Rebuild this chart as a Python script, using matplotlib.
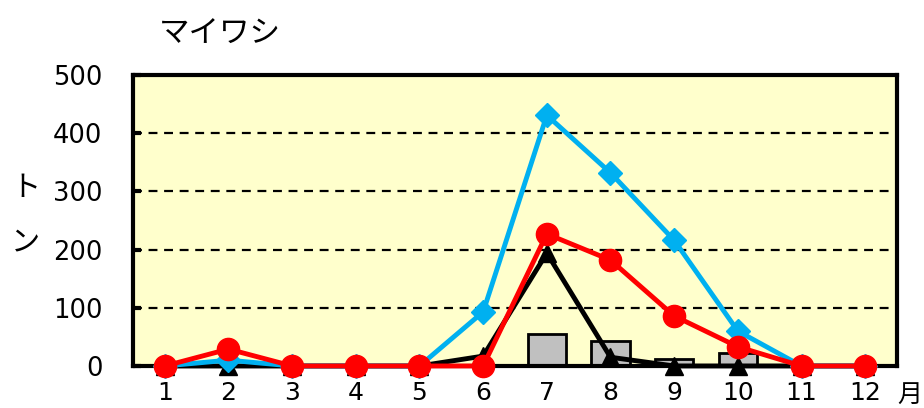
import matplotlib
matplotlib.use('Agg')
import matplotlib.pyplot as plt
import numpy as np

plt.rcParams['font.family'] = ['DejaVu Sans', 'Noto Sans CJK JP']

# Monthly catch (tons) for マイワシ
months = [1, 2, 3, 4, 5, 6, 7, 8, 9, 10, 11, 12]
bar_vals = [0, 0, 0, 0, 0, 0, 55, 43, 12, 23, 0, 0]
blue_vals = [0, 10, 0, 0, 0, 93, 431, 332, 216, 60, 0, 0]
black_vals = [0, 0, 0, 0, 0, 17, 194, 15, 0, 0, 0, 0]
red_vals = [0, 29, 0, 0, 0, 0, 227, 182, 86, 33, 0, 0]
yticks = [0, 100, 200, 300, 400, 500]

fig = plt.figure(figsize=(9.24, 4.08), dpi=100)
ax = fig.add_axes([0.1439, 0.103, 0.8269, 0.713])
ax.set_facecolor('#FFFFCC')

ax.bar(months, bar_vals, width=0.6, color='#C0C0C0', edgecolor='black',
       linewidth=2, zorder=2)
ax.plot(months, black_vals, color='black', lw=3.5, marker='^', ms=13,
        zorder=3, clip_on=False)
ax.plot(months, blue_vals, color='#00B0F0', lw=3.5, marker='D', ms=12,
        zorder=4, clip_on=False)
ax.plot(months, red_vals, color='#FF0000', lw=3.5, marker='o', ms=16,
        zorder=5, clip_on=False)

ax.set_xlim(0.5, 12.5)
ax.set_ylim(0, 500)
ax.set_xticks(months)
ax.set_yticks(yticks)
ax.tick_params(axis='x', length=0, labelsize=18, pad=11)
ax.tick_params(axis='y', direction='in', length=6, width=3, labelsize=18.5, pad=22)
for v in yticks[1:-1]:
    ax.axhline(v, color='black', lw=1.6, ls=(0, (4, 3)), zorder=1)
for s in ax.spines.values():
    s.set_linewidth(3)
    s.set_color('black')

fig.text(0.238, 0.915, 'マイワシ', fontsize=22, ha='center', va='center')
fig.text(0.028, 0.54, 'ト', fontsize=21, ha='center', va='center')
fig.text(0.028, 0.405, 'ン', fontsize=21, ha='center', va='center')
fig.text(0.985, 0.032, '月', fontsize=18, ha='center', va='center')

fig.savefig('out.png', dpi=100)
